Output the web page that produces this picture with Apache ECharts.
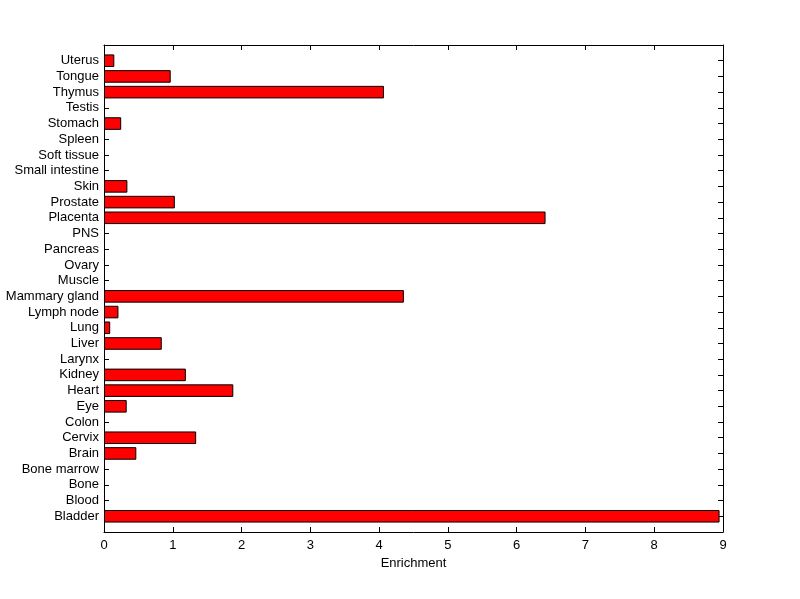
<!DOCTYPE html>
<html>
<head>
<meta charset="utf-8">
<script src="https://cdn.jsdelivr.net/npm/echarts@6/dist/echarts.min.js"></script>
<style>
  html, body { margin: 0; padding: 0; background: #fff; }
  #chart { width: 800px; height: 599px; }
</style>
</head>
<body>
<div id="chart"></div>
<script>
// tissues, bottom to top
var tissues = ['Bladder', 'Blood', 'Bone', 'Bone marrow', 'Brain', 'Cervix', 'Colon', 'Eye',
  'Heart', 'Kidney', 'Larynx', 'Liver', 'Lung', 'Lymph node', 'Mammary gland', 'Muscle',
  'Ovary', 'Pancreas', 'PNS', 'Placenta', 'Prostate', 'Skin', 'Small intestine',
  'Soft tissue', 'Spleen', 'Stomach', 'Testis', 'Thymus', 'Tongue', 'Uterus']
var enrichment = [8.95, 0, 0, 0, 0.47, 1.34, 0, 0.33,
  1.88, 1.19, 0, 0.84, 0.09, 0.21, 4.36, 0,
  0, 0, 0, 6.42, 1.03, 0.34, 0,
  0, 0, 0.25, 0, 4.07, 0.97, 0.15]
var xTicks = [0, 1, 2, 3, 4, 5, 6, 7, 8, 9]

// empty slots at both ends so the axis runs from 0 to n+1 like matlab
var cats = [''].concat(tissues, [''])
var barData = ['-'].concat(enrichment.map(function (v) { return v === 0 ? '-' : v }), ['-'])

var chart = echarts.init(document.getElementById('chart'))
var font = 'Arial, "Liberation Sans", sans-serif'
var black = { color: '#000', width: 1 }
// onZero off so the right/top copies stay on the box edges
var axLine = { show: true, onZero: false, lineStyle: black }
var tick = { show: true, inside: true, length: 5, interval: 0, lineStyle: black }

chart.setOption({
  animation: false,
  backgroundColor: '#fff',
  textStyle: { fontFamily: font },
  grid: { left: 104, right: 77, top: 45, bottom: 67, containLabel: false },
  xAxis: [{
    type: 'value',
    min: xTicks[0],
    max: xTicks[xTicks.length - 1],
    interval: 1,
    position: 'bottom',
    name: 'Enrichment',
    nameLocation: 'middle',
    nameGap: 25,
    nameTextStyle: { color: '#000', fontSize: 13, fontFamily: font },
    axisLine: axLine,
    axisTick: tick,
    axisLabel: { color: '#000', fontSize: 13, margin: 7, fontFamily: font },
    splitLine: { show: false }
  }, {
    type: 'value',
    min: xTicks[0],
    max: xTicks[xTicks.length - 1],
    interval: 1,
    position: 'top',
    axisLine: axLine,
    axisTick: tick,
    axisLabel: { show: false },
    splitLine: { show: false }
  }],
  yAxis: [{
    type: 'category',
    data: cats,
    boundaryGap: false,
    position: 'left',
    axisLine: axLine,
    axisTick: tick,
    axisLabel: { color: '#000', fontSize: 13, margin: 5, interval: 0, fontFamily: font },
    splitLine: { show: false }
  }, {
    type: 'category',
    data: cats,
    boundaryGap: false,
    position: 'right',
    axisLine: axLine,
    axisTick: tick,
    axisLabel: { show: false },
    splitLine: { show: false }
  }],
  series: [{
    type: 'bar',
    xAxisIndex: 0,
    yAxisIndex: 0,
    data: barData,
    barWidth: '80%',
    itemStyle: { color: '#ff0000', borderColor: '#000', borderWidth: 1 }
  }]
})
</script>
</body>
</html>
